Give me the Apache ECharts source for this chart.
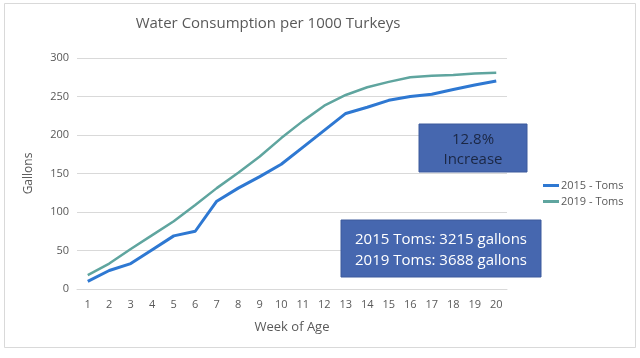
<!DOCTYPE html>
<html><head><meta charset="utf-8">
<script src="https://cdn.jsdelivr.net/npm/echarts@6/dist/echarts.min.js"></script>
<style>html,body{margin:0;padding:0;background:#fff}#c{width:640px;height:358px}</style>
</head><body><div id="c"></div>
<script>
const weeks = ['1','2','3','4','5','6','7','8','9','10','11','12','13','14','15','16','17','18','19','20'];
const toms2015 = [10, 24, 33, 51, 69, 75, 114, 131, 146, 162, 184, 206, 228, 236, 245, 250, 253, 259, 265, 270];
const toms2019 = [18, 33, 52, 70, 88, 109, 131, 151, 172, 196, 218, 238, 252, 262, 269, 275, 277, 278, 280, 281];
const yTicks = [0, 50, 100, 150, 200, 250, 300];
const FONT = '"Open Sans", "Liberation Sans", sans-serif';
const chart = echarts.init(document.getElementById('c'), null, {renderer: 'canvas'});
chart.setOption({
  animation: false,
  backgroundColor: '#fff',
  title: {
    text: 'Water Consumption per 1000 Turkeys',
    left: 263, top: 11, textAlign: 'center',
    textStyle: {fontFamily: FONT, fontSize: 15, fontWeight: 'normal', color: '#595959'}
  },
  grid: {left: 77, right: 133, top: 58, bottom: 69},
  legend: {
    orient: 'vertical', left: 538, top: 175, itemWidth: 16, itemHeight: 3, itemGap: 5,
    icon: 'rect',
    textStyle: {fontFamily: FONT, fontSize: 11, color: '#595959', padding: [0,0,0,-3]},
    data: ['2015 - Toms', '2019 - Toms']
  },
  xAxis: {
    type: 'category', data: weeks, boundaryGap: true,
    name: 'Week of Age', nameLocation: 'middle', nameGap: 32,
    nameTextStyle: {fontFamily: FONT, fontSize: 13, color: '#595959'},
    axisLine: {show: true, lineStyle: {color: '#D9D9D9'}},
    axisTick: {show: false},
    axisLabel: {fontFamily: FONT, fontSize: 11, color: '#595959', margin: 10, interval: 0}
  },
  yAxis: {
    type: 'value', min: yTicks[0], max: yTicks[yTicks.length-1], interval: 50,
    name: 'Gallons', nameLocation: 'middle', nameGap: 42, nameRotate: 90,
    nameTextStyle: {fontFamily: FONT, fontSize: 12, color: '#595959'},
    axisLine: {show: false}, axisTick: {show: false},
    axisLabel: {fontFamily: FONT, fontSize: 11, color: '#595959', margin: 8},
    splitLine: {lineStyle: {color: '#D9D9D9', width: 1}}
  },
  series: [
    {name: '2015 - Toms', type: 'line', data: toms2015, symbol: 'none', smooth: false,
     lineStyle: {color: '#2E78D2', width: 3}, itemStyle: {color: '#2E78D2'}, z: 3},
    {name: '2019 - Toms', type: 'line', data: toms2019, symbol: 'none', smooth: false,
     lineStyle: {color: '#5FA59F', width: 2.5}, itemStyle: {color: '#5FA59F'}, z: 2}
  ],
  graphic: [
    {type: 'rect', shape: {x: 4.5, y: 3.5, width: 631, height: 344}, style: {fill: 'none', stroke: '#D9D9D9', lineWidth: 1}, z: -10},
    {type: 'rect', shape: {x: 419, y: 124, width: 108, height: 48}, style: {fill: '#4667AF', stroke: '#3C5A9C', lineWidth: 1}, z: 10},
    {type: 'text', x: 473, y: 150, z: 11, style: {text: '12.8%\nIncrease', align: 'center', verticalAlign: 'middle', fontFamily: FONT, fontSize: 15, lineHeight: 20, fill: '#1B2744'}},
    {type: 'rect', shape: {x: 341, y: 220, width: 200, height: 57}, style: {fill: '#4667AF', stroke: '#3C5A9C', lineWidth: 1}, z: 10},
    {type: 'text', x: 441, y: 250, z: 11, style: {text: '2015 Toms: 3215 gallons\n2019 Toms: 3688 gallons', align: 'center', verticalAlign: 'middle', fontFamily: FONT, fontSize: 15, lineHeight: 21, fill: '#FFFFFF'}}
  ]
});
</script></body></html>
